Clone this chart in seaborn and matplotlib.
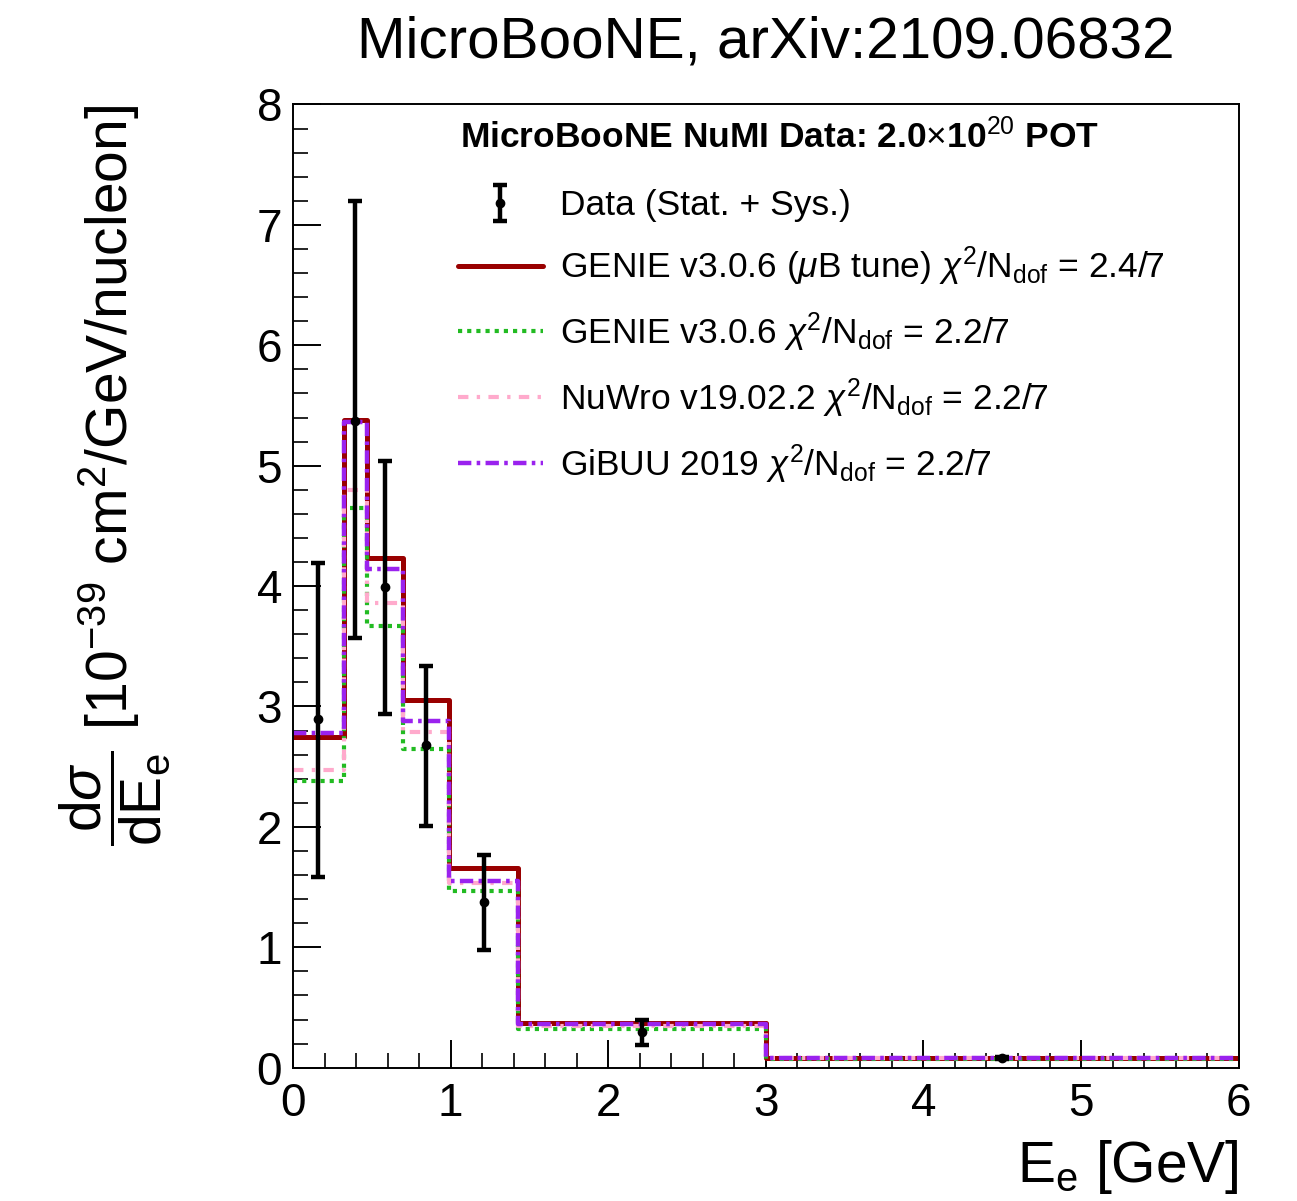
import numpy as np
import matplotlib
matplotlib.use("Agg")
import matplotlib.pyplot as plt
import seaborn as sns

# bin edges of E_e [GeV]
edges = [0.0, 0.32, 0.47, 0.70, 0.99, 1.43, 3.0, 6.0]

# measured cross section and error band (10^-39 cm^2/GeV/nucleon)
data_val = [2.90, 5.37, 3.99, 2.68, 1.38, 0.30, 0.08]
data_hi = [4.19, 7.20, 5.04, 3.34, 1.77, 0.40, 0.09]
data_lo = [1.58, 3.57, 2.94, 2.01, 0.98, 0.19, 0.07]

# generator predictions
genie_ub = [2.75, 5.38, 4.23, 3.05, 1.66, 0.37, 0.08]
genie = [2.38, 4.65, 3.67, 2.65, 1.47, 0.32, 0.07]
nuwro = [2.47, 4.80, 3.86, 2.79, 1.53, 0.35, 0.08]
gibuu = [2.78, 5.36, 4.14, 2.88, 1.55, 0.36, 0.08]

labels = [
    r"GENIE v3.0.6 ($\mu$B tune) $\chi^{2}$/N$_{\mathrm{dof}}$ = 2.4/7",
    r"GENIE v3.0.6 $\chi^{2}$/N$_{\mathrm{dof}}$ = 2.2/7",
    r"NuWro v19.02.2 $\chi^{2}$/N$_{\mathrm{dof}}$ = 2.2/7",
    r"GiBUU 2019 $\chi^{2}$/N$_{\mathrm{dof}}$ = 2.2/7",
]

sns.set_theme(style="ticks")
plt.rcParams["font.family"] = ["Liberation Sans", "DejaVu Sans"]
plt.rcParams["mathtext.fontset"] = "custom"
plt.rcParams["mathtext.rm"] = "Liberation Sans"
plt.rcParams["mathtext.it"] = "Liberation Sans:italic"
plt.rcParams["mathtext.bf"] = "Liberation Sans:bold"
plt.rcParams["text.color"] = "black"
plt.rcParams["axes.labelcolor"] = "black"

fig = plt.figure(figsize=(12.97, 12.01), dpi=100)
ax = fig.add_axes([0.226, 0.111, 0.729, 0.802])

centers = [(a + b) / 2 for a, b in zip(edges[:-1], edges[1:])]

styles = [
    ("#990000", "-", 3.6),
    ("#22bb22", (0, (1.0, 1.2)), 3.0),
    ("#ffaacc", (0, (2.5, 2.0, 0.8, 2.0)), 3.0),
    ("#9a22ee", (0, (3.0, 1.2, 0.8, 1.2)), 3.2),
]
handles = []
for vals, (col, ls, lw), lab in zip([genie_ub, genie, nuwro, gibuu], styles, labels):
    sns.histplot(x=centers, weights=vals, bins=edges, element="step", fill=False,
                 color=col, linestyle=ls, linewidth=lw, ax=ax)
    handles.append(plt.Line2D([], [], color=col, linestyle=ls, linewidth=lw, label=lab))

yerr = [np.array(data_val) - np.array(data_lo), np.array(data_hi) - np.array(data_val)]
eb = ax.errorbar(centers, data_val, yerr=yerr, fmt="o", color="black", markersize=6,
                 elinewidth=3.2, capsize=5, capthick=3.2, label="Data (Stat. + Sys.)")

ax.set_xlim(0, 6)
ax.set_ylim(0, 8)
ax.set_xticks(range(0, 7))
ax.set_yticks(range(0, 9))
ax.set_xticks(np.arange(0, 6.01, 0.2), minor=True)
ax.set_yticks(np.arange(0, 8.01, 0.2), minor=True)
ax.tick_params(which="both", direction="in", top=False, right=False, colors="black",
               labelsize=33)
ax.tick_params(which="major", length=20, width=1.4)
ax.tick_params(which="minor", length=11, width=1.2)
ax.tick_params(axis="x", pad=10)
ax.tick_params(axis="y", pad=8)
for s in ax.spines.values():
    s.set_color("black")
    s.set_linewidth(1.4)
ax.set_ylabel("")
ax.set_xlabel(r"E$_{\mathrm{e}}$ [GeV]", fontsize=41, loc="right", labelpad=9)
ax.set_ylabel(r"$\dfrac{\mathrm{d}\sigma}{\mathrm{dE_{e}}}$ [10$^{-39}$ cm$^{2}$/GeV/nucleon]",
              fontsize=41, loc="top", labelpad=60)

ax.set_title("MicroBooNE, arXiv:2109.06832", fontsize=42, pad=34)

# legend header
ax.text(0.1767, 0.967, r"MicroBooNE NuMI Data: 2.0$\times$10$^{20}$ POT",
        transform=ax.transAxes, fontsize=25.5, fontweight="bold", ha="left", va="center")

leg = ax.legend(handles=[eb] + handles, loc="upper left", bbox_to_anchor=(0.159, 0.9265),
                frameon=False, fontsize=25.5, handlelength=2.4, handletextpad=0.48,
                labelspacing=0.63, borderaxespad=0)

fig.savefig("out.png", dpi=100)
